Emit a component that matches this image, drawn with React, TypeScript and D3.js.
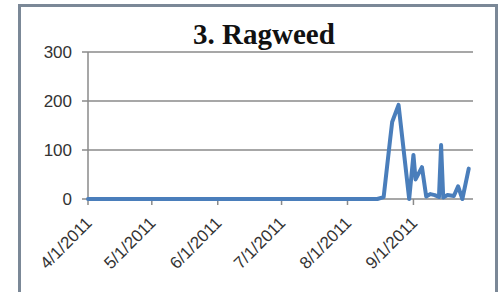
import * as React from "react";
import * as d3 from "d3";

// ragweed pollen counts, sparse daily readings (line is flat at 0 elsewhere)
const dates = [
  "2011-04-01", "2011-08-15", "2011-08-18", "2011-08-21", "2011-08-22", "2011-08-25",
  "2011-08-30", "2011-09-01", "2011-09-02", "2011-09-05", "2011-09-07", "2011-09-09",
  "2011-09-11", "2011-09-13", "2011-09-14", "2011-09-15", "2011-09-17", "2011-09-20",
  "2011-09-22", "2011-09-24", "2011-09-27",
];
const counts = [0, 0, 4, 120, 157, 192, 0, 90, 40, 65, 5, 10, 8, 4, 110, 3, 8, 6, 26, 0, 62];
const yTicks = [0, 100, 200, 300];
const monthTicks = ["2011-04-01", "2011-05-01", "2011-06-01", "2011-07-01", "2011-08-01", "2011-09-01"];

const parse = d3.timeParse("%Y-%m-%d");
const fmt = d3.timeFormat("%-m/%-d/%Y");

export default function App() {
  const x = d3.scaleTime()
    .domain([parse("2011-04-01")!, parse("2011-09-29")!])
    .range([88, 473]);
  const y = d3.scaleLinear().domain([0, 300]).range([199, 52]);

  const pts = dates.map((d, i) => ({ date: parse(d)!, v: counts[i] }));
  const line = d3.line<{ date: Date; v: number }>()
    .x(d => x(d.date))
    .y(d => y(d.v));

  return (
    <svg width={503} height={292} style={{ position: "absolute", left: 0, top: 0, background: "#fff" }}>
      <rect x={19.5} y={5.5} width={477} height={300} fill="#fff" stroke="#7b8897" strokeWidth={3} />
      <text x={264} y={44} textAnchor="middle" fontFamily="Liberation Serif" fontWeight="bold" fontSize={29} fill="#111">
        3. Ragweed
      </text>
      {yTicks.map(t => (
        <g key={t}>
          {t > 0 && <line x1={88} x2={473} y1={y(t)} y2={y(t)} stroke="#8a8a8a" strokeWidth={1.5} />}
          <line x1={82} x2={88} y1={y(t)} y2={y(t)} stroke="#8a8a8a" strokeWidth={1.5} />
          <text x={72} y={y(t)} dy="0.36em" textAnchor="end" fontFamily="Liberation Sans" fontSize={17} fill="#333">
            {t}
          </text>
        </g>
      ))}
      <line x1={88} x2={88} y1={y(300)} y2={y(0)} stroke="#8a8a8a" strokeWidth={1.5} />
      <line x1={88} x2={473} y1={y(0)} y2={y(0)} stroke="#8a8a8a" strokeWidth={1.5} />
      {monthTicks.map(m => {
        const px = x(parse(m)!);
        return (
          <g key={m}>
            <line x1={px} x2={px} y1={y(0)} y2={y(0) + 6} stroke="#8a8a8a" strokeWidth={1.5} />
            <text transform={`translate(${px + 5},${y(0) + 25}) rotate(-45)`} textAnchor="end"
              fontFamily="Liberation Sans" fontSize={17} fill="#333">
              {fmt(parse(m)!)}
            </text>
          </g>
        );
      })}
      <path d={line(pts) || ""} fill="none" stroke="#4a7ebb" strokeWidth={4} strokeLinejoin="round" strokeLinecap="round" />
    </svg>
  );
}
